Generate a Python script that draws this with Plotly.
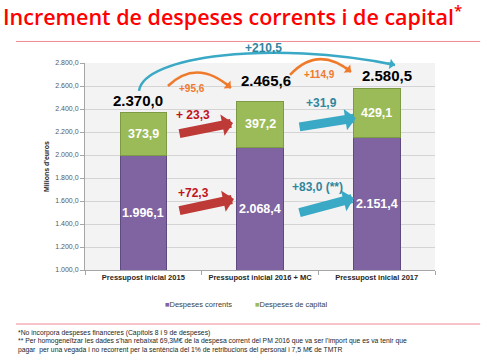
import plotly.graph_objects as go

# ---- data ----
categories = ["Pressupost inicial 2015", "Pressupost inicial 2016 + MC", "Pressupost inicial 2017"]
despeses_corrents = [1996.1, 2068.4, 2151.4]
despeses_capital = [373.9, 397.2, 429.1]
totals = [2370.0, 2465.6, 2580.5]
total_labels = ["2.370,0", "2.465,6", "2.580,5"]
corrents_labels = ["1.996,1", "2.068,4", "2.151,4"]
capital_labels = ["373,9", "397,2", "429,1"]
delta_capital = ["+ 23,3", "+31,9"]
delta_corrents = ["+72,3", "+83,0 (**)"]
delta_total = ["+95,6", "+114,9"]
delta_total_all = "+210,5"
footnotes = [
    "*No incorpora despeses financeres (Capítols 8 i 9 de despeses)",
    "** Per homogeneïtzar les dades s'han rebaixat 69,3M€ de la despesa corrent del PM 2016 "
    "que va ser l'import que es va tenir que",
    "pagar  per una vegada i no recorrent per la sentència del 1% de retribucions del personal "
    "i 7,5 M€ de TMTR",
]

Y_MIN, Y_MAX = 1000, 2800
X_MIN, X_MAX = -0.5, 2.5

PURPLE = "#8064a2"
GREEN = "#9bbb59"
RED = "#be3a36"
TEAL = "#3aa9c6"
ORANGE = "#ef7a2b"
FONT = "Liberation Sans"

xs = list(range(len(categories)))

fig = go.Figure()
fig.add_trace(go.Bar(x=xs, y=despeses_corrents, name="Despeses corrents", width=0.4,
                     marker=dict(color=PURPLE, line=dict(color="#5e4a80", width=1)),
                     showlegend=False))
fig.add_trace(go.Bar(x=xs, y=despeses_capital, name="Despeses de capital", width=0.4,
                     marker=dict(color=GREEN, line=dict(color="#7d9a44", width=1)),
                     showlegend=False))


def px(xd):
    return (xd - X_MIN) / (X_MAX - X_MIN)


def py(yd):
    return (yd - Y_MIN) / (Y_MAX - Y_MIN)


ann = []
shapes = []

# totals on top and segment labels
tot_shift = [(-5, 1), (6, 10), (10, 2)]
for i in xs:
    ann.append(dict(x=i, y=totals[i], text="<b>%s</b>" % total_labels[i], showarrow=False,
                    yanchor="bottom", xshift=tot_shift[i][0], yshift=tot_shift[i][1],
                    font=dict(family=FONT, size=15, color="#000000")))
    ann.append(dict(x=i, y=(Y_MIN + despeses_corrents[i]) / 2, text="<b>%s</b>" % corrents_labels[i],
                    showarrow=False, yanchor="middle",
                    font=dict(family=FONT, size=12.5, color="#ffffff")))
    ann.append(dict(x=i, y=despeses_corrents[i] + despeses_capital[i] / 2,
                    text="<b>%s</b>" % capital_labels[i], showarrow=False, yanchor="middle",
                    font=dict(family=FONT, size=12.5, color="#ffffff")))

# straight block arrows (head, tail in data units)
block_arrows = [
    ((0.769, 2278), (0.297, 2183), RED),
    ((0.777, 1617), (0.297, 1513), RED),
    ((1.823, 2322), (1.326, 2243), TEAL),
    ((1.806, 1626), (1.326, 1496), TEAL),
]
for (hx, hy), (tx, ty), c in block_arrows:
    ann.append(dict(x=hx, y=hy, ax=tx, ay=ty, axref="x", ayref="y", text="", showarrow=True,
                    arrowhead=1, arrowsize=0.4, arrowwidth=9, arrowcolor=c))

# delta labels
deltas = [
    (0.426, 2348, delta_capital[0], 12, "#c0141c"),
    (0.426, 1670, delta_corrents[0], 12, "#c0141c"),
    (1.523, 2452, delta_capital[1], 12, "#31869e"),
    (1.497, 1722, delta_corrents[1], 12, "#31869e"),
    (0.417, 2574, delta_total[0], 10, ORANGE),
    (1.514, 2696, delta_total[1], 10, ORANGE),
]
for x, y, t, s, c in deltas:
    ann.append(dict(x=x, y=y, text="<b>%s</b>" % t, showarrow=False, xanchor="center",
                    yanchor="middle", font=dict(family=FONT, size=s, color=c)))
ann.append(dict(x=px(1.026), y=py(2930), xref="paper", yref="paper", xanchor="center",
                yanchor="middle", text="<b>%s</b>" % delta_total_all,
                showarrow=False, font=dict(family=FONT, size=12, color="#31869e")))

# curved arrows (points in data units, drawn in paper coordinates)
curves = [
    ([(0.211, 2600), (0.460, 2843), (0.751, 2583)], ORANGE, 2.5),
    ([(1.257, 2696), (1.497, 2957), (1.780, 2722)], ORANGE, 2.5),
    ([(-0.037, 2557), (0.0, 2860), (1.100, 3000), (2.157, 2783)], TEAL, 2.5),
]
for pts, c, w in curves:
    p = [(px(a), py(b)) for a, b in pts]
    if len(p) == 3:
        path = "M %.4f,%.4f Q %.4f,%.4f %.4f,%.4f" % (p[0] + p[1] + p[2])
    else:
        path = "M %.4f,%.4f C %.4f,%.4f %.4f,%.4f %.4f,%.4f" % (p[0] + p[1] + p[2] + p[3])
    shapes.append(dict(type="path", xref="paper", yref="paper", path=path,
                       line=dict(color=c, width=w)))
    ex, ey = pts[-1]
    cx, cy = pts[-2]
    dxp = (cx - ex) * 116.667
    dyp = -(cy - ey) * 0.115
    n = (dxp ** 2 + dyp ** 2) ** 0.5
    ann.append(dict(x=px(ex), y=py(ey), xref="paper", yref="paper", text="", showarrow=True,
                    ax=dxp / n * 9, ay=dyp / n * 9, arrowhead=1, arrowsize=0.7,
                    arrowwidth=w, arrowcolor=c))

# separator lines
shapes.append(dict(type="line", xref="paper", yref="paper", x0=-0.197, x1=1.129, y0=1.104, y1=1.104,
                   line=dict(color="#f08a94", width=1)))
shapes.append(dict(type="line", xref="paper", yref="paper", x0=-0.197, x1=1.129, y0=-0.261, y1=-0.261,
                   line=dict(color="#f08a94", width=1)))

# legend (manual)
ann.append(dict(x=0.223, y=-0.168, xref="paper", yref="paper", xanchor="left", yanchor="middle",
                showarrow=False, text="<span style='color:%s'>■</span>Despeses corrents" % PURPLE,
                font=dict(family=FONT, size=7.5, color="#404040")))
ann.append(dict(x=0.48, y=-0.168, xref="paper", yref="paper", xanchor="left", yanchor="middle",
                showarrow=False, text="<span style='color:%s'>■</span>Despeses de capital" % GREEN,
                font=dict(family=FONT, size=7.5, color="#404040")))

# footnotes, one line each
for k, line in enumerate(footnotes):
    ann.append(dict(x=-0.197, y=(270 - (333 + 8.3 * k)) / 207, xref="paper", yref="paper",
                    xanchor="left", yanchor="middle", align="left", showarrow=False, text=line,
                    font=dict(family=FONT, size=6.8, color="#262626")))

fig.update_layout(
    width=487, height=360,
    margin=dict(l=85, r=52, t=63, b=90),
    paper_bgcolor="#ffffff", plot_bgcolor="#f3f3f3",
    barmode="stack", bargap=0.6,
    separators=",.",
    title=dict(text="Increment de despeses corrents i de capital<sup>*</sup>",
               x=3 / 487, xanchor="left", y=0.952, yanchor="middle",
               font=dict(family="Open Sans", size=21.5, color="#ff0000", weight=600)),
    xaxis=dict(range=[X_MIN, X_MAX], tickvals=xs, ticktext=categories, showgrid=False,
               showline=True, linecolor="#a6a6a6", ticks="",
               minor=dict(tick0=0.5, dtick=1, ticks="outside", ticklen=4, tickcolor="#a6a6a6"),
               tickfont=dict(family=FONT, size=7.5, color="#262626", weight="bold")),
    yaxis=dict(range=[Y_MIN, Y_MAX], dtick=200, tickformat=",.1f", gridcolor="#d4d4d4",
               showline=True, linecolor="#a6a6a6", ticks="outside", ticklen=4, tickcolor="#a6a6a6",
               tickfont=dict(family=FONT, size=7, color="#595959"),
               title=dict(text="Milions d'euros", standoff=4,
                          font=dict(family=FONT, size=7, color="#262626", weight="bold"))),
    annotations=ann, shapes=shapes,
)

fig.write_html("out.html", config={"displayModeBar": False},
               post_script="document.body.style.margin='0px';")
